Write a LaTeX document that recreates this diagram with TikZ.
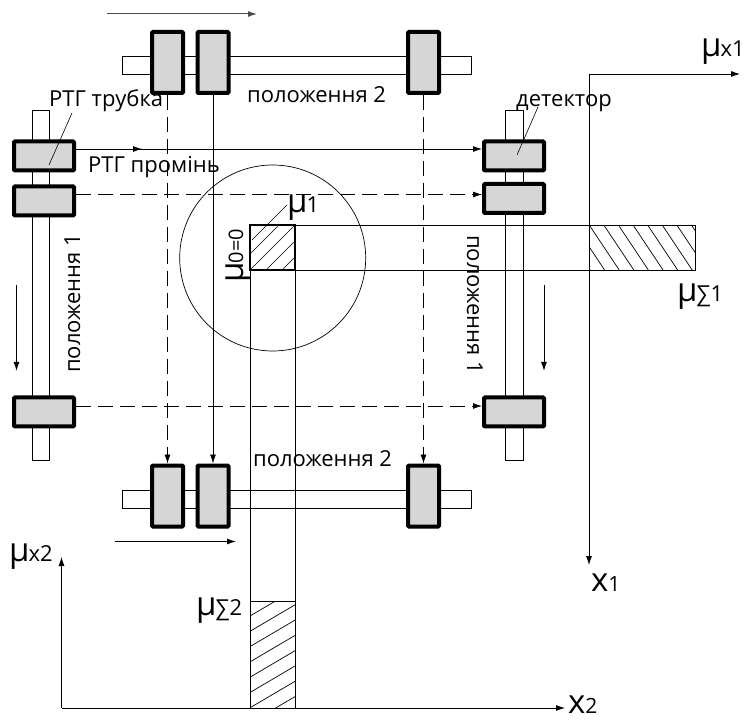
\documentclass[tikz,border=0pt]{standalone}
\usepackage{fontspec}
\setmainfont{Open Sans}
\usetikzlibrary{arrows.meta}
\newcommand{\mysize}{\fontsize{22}{24}\selectfont}
\newcommand{\muz}[2]{\fontsize{33}{35}\selectfont μ\kern-1pt\fontsize{#2}{#2}\selectfont #1}
\tikzset{
  x=1pt,y=-1pt,
  tube/.style={draw,line width=4pt,fill=black!16,rounded corners=1pt,minimum width=#1,inner sep=0pt,outer sep=2pt},
  hbox/.style={tube=60pt,minimum height=29pt},
  vbox/.style={tube=31pt,minimum height=61pt},
  rail/.style={draw,line width=0.8pt,fill=white},
  wire/.style={line width=0.8pt},
  tip/.style={-{Latex[length=9pt,width=6pt]}},
  ray/.style={wire,tip},
  dray/.style={wire,tip,dash pattern=on 15pt off 7pt},
  move/.style={line width=1pt,tip},
  lab/.style={inner sep=0pt,font=\mysize,anchor=base west},
  hatchl/.style={line width=0.7pt},
}
\begin{document}
\begin{tikzpicture}
\useasboundingbox (0,0) rectangle (748,722);
% rails
\draw[rail] (122,56) rectangle (471,74);
\draw[rail] (122,490) rectangle (471,508);
\draw[rail] (32,110) rectangle (49,460);
\draw[rail] (505,110) rectangle (523,460);
% tubes and detectors
\node[vbox] (t1) at (167.5,62.5) {};
\node[vbox] (t2) at (213,62.5) {};
\node[vbox] (t3) at (423.5,62.5) {};
\node[vbox] (b1) at (167.5,496) {};
\node[vbox] (b2) at (213,496) {};
\node[vbox] (b3) at (423.5,496) {};
\node[hbox] (l1) at (44,156) {};
\node[hbox] (l2) at (44,201) {};
\node[hbox] (l3) at (44,412) {};
\node[hbox] (r1) at (514,156) {};
\node[hbox] (r2) at (514,198.5) {};
\node[hbox] (r3) at (514,412) {};
% circle
\node[draw,circle,line width=0.7pt,minimum size=186pt,inner sep=0pt] (circ) at (272.7,258) {};
% bands
\draw[wire] (295,225) -- (695,225) -- (695,270) -- (295,270);
\draw[wire] (250,270) -- (250,708) (295,270) -- (295,708);
\draw[wire] (250,601) -- (295,601);
% hatches
\begin{scope}
\clip (250,225) rectangle (295,270);
\foreach \k in {0,16,...,96} \draw[hatchl] (250+\k-16,270+0) -- ++(50,-50);
\end{scope}
\begin{scope}
\clip (590,225) rectangle (695,270);
\foreach \k in {0,14.6,...,160} \draw[hatchl] (560+\k,225) -- ++(30,45);
\end{scope}
\begin{scope}
\clip (250,601) rectangle (295,708);
\foreach \k in {0,15.3,...,150} \draw[hatchl] (250,616+\k) -- ++(45,-26.5);
\end{scope}
\draw[line width=2pt] (250,225) rectangle (295,270);
% rays
\draw[ray] ([yshift=7pt]l1.east) -- ([yshift=7pt]l1.east -| r1.west);
\draw[wire,tip] ([yshift=7pt]l1.east) -- ([yshift=7pt,xshift=66pt]l1.east);
\draw[dray] ([yshift=6.5pt]l2.east) -- ([yshift=6.5pt]l2.east -| r2.west);
\draw[dray] ([yshift=6pt]l3.east) -- ([yshift=6pt]r3.west);
\draw[dray] (t1.south) -- (b1.north);
\draw[ray] (t2.south) -- (b2.north);
\draw[dray] (t3.south) -- (b3.north);
% moves
\coordinate (ma) at (107,14); \coordinate (mb) at (257,14);
\draw[move,black!70] (ma) -- (mb);
\coordinate (mc) at (115,541.5); \coordinate (md) at (236,541.5);
\draw[move] (mc) -- (md);
\coordinate (me) at (16.5,285); \coordinate (mf) at (16.5,371);
\draw[move] (me) -- (mf);
\coordinate (mg) at (544,285); \coordinate (mh) at (544,371);
\draw[move] (mg) -- (mh);
% axes
\coordinate (o1) at (589,74); \coordinate (o1x) at (740,74); \coordinate (o1y) at (589,565);
\draw[ray] (o1) -- (o1x);
\draw[ray] (o1) -- (o1y);
\coordinate (o2) at (61.5,708); \coordinate (o2x) at (565,708); \coordinate (o2y) at (61.5,557);
\draw[ray] (o2) -- (o2x);
\draw[ray] (o2) -- (o2y);
% labels
\node[lab] (n1) at (49,107) {РТГ трубка};
\node[lab] (n2) at (88,172.5) {РТГ промінь};
\node[lab] (n3) at (247,102.5) {положення 2};
\node[lab] (n4) at (253,466) {положення 2};
\node[lab] (n5) at (516,107) {детектор};
\node[lab,rotate=90] (n6) at (80,373) {положення 1};
\node[lab,rotate=-90] (n7) at (467,235) {положення 1};
\coordinate (c1) at (49,165); \coordinate (c1b) at (72,113);
\draw[line width=0.6pt] (c1b) -- (c1);
\coordinate (c2) at (517,155); \coordinate (c2b) at (538,107);
\draw[line width=0.6pt] (c2b) -- (c2);
\coordinate (c3) at (287,205); \coordinate (c3b) at (252,240);
\draw[line width=0.6pt] (c3) -- (c3b);
\node[lab] (m1) at (287,213) {\muz{1}{22}};
\node[lab,rotate=90] (m0) at (243,283) {\muz{0=0}{20}};
\node[lab] (m2) at (701,57) {\muz{x1}{22}};
\node[lab] (m3) at (677,302) {\muz{∑1}{22}};
\node[lab] (m4) at (9,561.5) {\muz{x2}{22}};
\node[lab] (m5) at (196,615) {\muz{∑2}{22}};
\node[lab] (x1) at (591,591) {\fontsize{33}{35}\selectfont x\fontsize{21}{21}\selectfont 1};
\node[lab] (x2) at (568,713.5) {\fontsize{33}{35}\selectfont x\fontsize{21}{21}\selectfont 2};
\end{tikzpicture}
\end{document}
